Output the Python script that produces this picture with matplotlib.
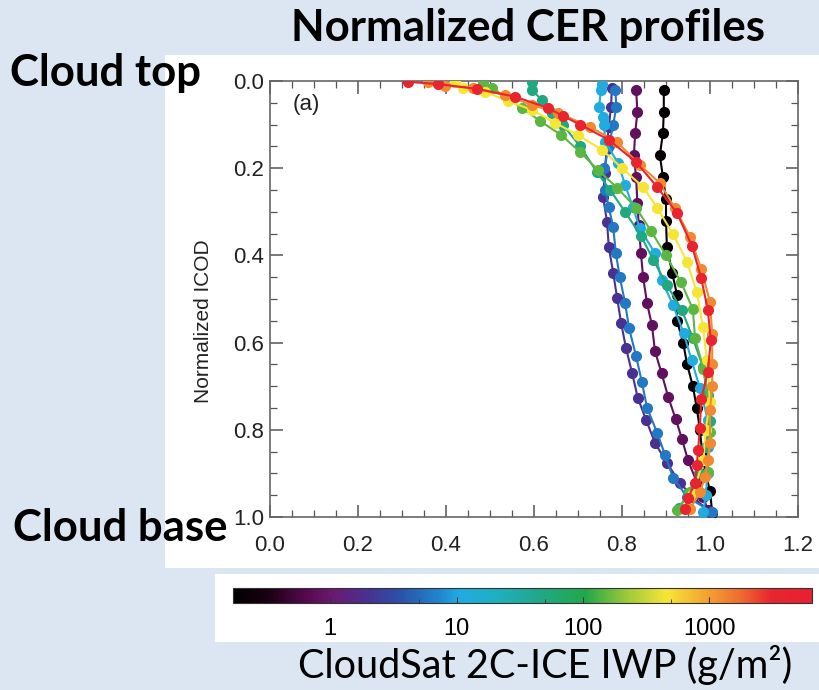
import matplotlib
matplotlib.use("Agg")
import matplotlib.pyplot as plt
from matplotlib.colors import LinearSegmentedColormap, LogNorm
from matplotlib.patches import Rectangle
from matplotlib.ticker import MultipleLocator, FixedLocator, NullFormatter
import matplotlib.cm as cm

# ---------------- data ----------------
iwp_values = [0.2, 0.8, 2, 6, 11, 50, 150, 450, 1300, 3800]

black_cer = [0.895,0.895,0.893,0.886,0.893,0.900,0.900,0.902,0.914,0.925,0.925,0.939,0.948,0.961,0.970,0.977,0.982,0.990,1.000,1.005]
black_icod = [0.02,0.07,0.12,0.17,0.22,0.27,0.32,0.38,0.44,0.49,0.55,0.60,0.65,0.70,0.75,0.80,0.85,0.90,0.94,0.99]

purple_cer = [0.832,0.835,0.830,0.827,0.832,0.835,0.838,0.843,0.848,0.857,0.868,0.875,0.890,0.905,0.922,0.936,0.950,0.970,0.985,0.995]
purple_icod = [0.02,0.07,0.12,0.17,0.22,0.28,0.33,0.395,0.45,0.51,0.56,0.62,0.67,0.725,0.775,0.82,0.87,0.92,0.955,0.985]

indigo_cer = [0.777,0.775,0.770,0.765,0.761,0.757,0.766,0.770,0.780,0.789,0.798,0.809,0.823,0.836,0.855,0.875,0.902,0.932,0.961,1.000]
indigo_icod = [0.016,0.06,0.105,0.155,0.21,0.266,0.323,0.381,0.44,0.498,0.555,0.612,0.67,0.727,0.778,0.83,0.876,0.922,0.954,0.989]

blue_cer = [0.785,0.787,0.780,0.770,0.760,0.762,0.770,0.780,0.786,0.795,0.807,0.816,0.832,0.845,0.857,0.880,0.898,0.916,0.948,1.005]
blue_icod = [0.02,0.06,0.10,0.15,0.20,0.25,0.29,0.335,0.395,0.45,0.509,0.567,0.631,0.69,0.75,0.807,0.858,0.91,0.954,0.989]

cyan_cer = [0.755,0.752,0.748,0.757,0.759,0.762,0.791,0.807,0.825,0.840,0.875,0.890,0.916,0.940,0.958,0.977,0.995,0.995,0.995,0.990,0.985]
cyan_icod = [0.007,0.02,0.06,0.083,0.10,0.14,0.188,0.238,0.29,0.337,0.395,0.456,0.514,0.578,0.640,0.704,0.778,0.84,0.90,0.95,0.989]

teal_cer = [0.595,0.595,0.618,0.641,0.666,0.705,0.743,0.773,0.807,0.843,0.871,0.902,0.936,0.961,0.984,0.995,1.000,0.990,0.975,0.950,0.930]
teal_icod = [0.002,0.020,0.044,0.073,0.101,0.150,0.209,0.250,0.300,0.355,0.410,0.468,0.525,0.590,0.656,0.720,0.780,0.840,0.900,0.945,0.980]

green_cer = [0.484,0.505,0.540,0.573,0.614,0.662,0.705,0.745,0.789,0.832,0.866,0.900,0.934,0.961,0.966,0.985,0.995,1.000,0.995,0.955,0.925]
green_icod = [0.002,0.016,0.040,0.062,0.092,0.124,0.163,0.204,0.245,0.291,0.344,0.400,0.461,0.523,0.590,0.660,0.730,0.806,0.897,0.943,0.984]

yellow_cer = [0.420,0.439,0.489,0.541,0.595,0.648,0.700,0.755,0.800,0.848,0.880,0.916,0.948,0.970,0.984,0.993,1.000,0.990,0.985,0.960,0.950]
yellow_icod = [0.002,0.016,0.025,0.046,0.066,0.096,0.124,0.158,0.200,0.243,0.291,0.351,0.415,0.484,0.564,0.640,0.736,0.800,0.870,0.950,0.980]

orange_cer = [0.360,0.398,0.461,0.534,0.595,0.655,0.727,0.789,0.841,0.886,0.920,0.955,0.980,1.000,1.005,1.005,1.005,1.000,1.000,0.995,0.989,0.977,0.955]
orange_icod = [0.002,0.011,0.016,0.032,0.055,0.073,0.105,0.140,0.193,0.234,0.291,0.358,0.431,0.507,0.580,0.650,0.700,0.755,0.830,0.870,0.908,0.943,0.982]

red_cer = [0.314,0.382,0.470,0.557,0.632,0.665,0.705,0.770,0.832,0.880,0.925,0.959,0.980,0.995,1.002,0.995,0.980,0.977,0.973,0.970,0.966,0.950,0.943]
red_icod = [0.002,0.007,0.018,0.036,0.062,0.080,0.100,0.135,0.186,0.243,0.303,0.378,0.452,0.525,0.594,0.667,0.730,0.796,0.846,0.880,0.922,0.957,0.982]

profiles_cer = [black_cer, purple_cer, indigo_cer, blue_cer, cyan_cer,
                teal_cer, green_cer, yellow_cer, orange_cer, red_cer]
profiles_icod = [black_icod, purple_icod, indigo_icod, blue_icod, cyan_icod,
                 teal_icod, green_icod, yellow_icod, orange_icod, red_icod]

x_ticks = [0.0, 0.2, 0.4, 0.6, 0.8, 1.0, 1.2]
y_ticks = [0.0, 0.2, 0.4, 0.6, 0.8, 1.0]
cb_ticks = [1, 10, 100, 1000]
cb_minor = [5, 50, 500]

# ---------------- style ----------------
bg = "#dce6f2"
cmap = LinearSegmentedColormap.from_list("iwp", [
    (0.00, "#000000"), (0.06, "#1a0012"), (0.13, "#5a0a52"), (0.17, "#6a1a70"),
    (0.23, "#4a3090"), (0.29, "#2a52a8"), (0.36, "#1f8ad0"), (0.39, "#22aae2"),
    (0.45, "#1eb0c4"), (0.52, "#20a890"), (0.61, "#22a84a"), (0.68, "#9cc83a"),
    (0.75, "#f6e636"), (0.82, "#f3a232"), (0.88, "#ee6a30"), (0.93, "#e8262e"),
    (1.00, "#e82030")])
norm = LogNorm(vmin=0.17, vmax=6500)

fig = plt.figure(figsize=(8.2, 6.9), dpi=100, facecolor=bg)
W, H = 820.0, 690.0

def fx(px):
    return px / W

def fy(py):
    return 1 - py / H

# white panels (behind everything)
fig.patches.append(Rectangle((fx(165), fy(568)), fx(820) - fx(165), fy(55) - fy(568),
                             transform=fig.transFigure, facecolor="white", edgecolor="none", zorder=-5))
fig.patches.append(Rectangle((fx(215), fy(642)), fx(820) - fx(215), fy(574) - fy(642),
                             transform=fig.transFigure, facecolor="white", edgecolor="none", zorder=-5))

ax = fig.add_axes([fx(270), fy(517), fx(798) - fx(270), fy(81) - fy(517)])
ax.set_facecolor("white")

for iwp, xs, ys in zip(iwp_values, profiles_cer, profiles_icod):
    col = cmap(norm(iwp))
    ax.plot(xs, ys, "-o", color=col, lw=1.5, ms=7, mec=col, mfc=col, zorder=3)

ax.set_xlim(0, 1.2)
ax.set_ylim(1.0, 0.0)
ax.set_xticks(x_ticks)
ax.set_yticks(y_ticks)
ax.set_xticklabels([f"{v:.1f}" for v in x_ticks])
ax.set_yticklabels([f"{v:.1f}" for v in y_ticks])
ax.xaxis.set_minor_locator(MultipleLocator(0.05))
ax.yaxis.set_minor_locator(MultipleLocator(0.05))
ax.tick_params(which="both", direction="in", top=True, right=True, color="#555555",
               labelsize=16, labelcolor="#222222")
ax.tick_params(axis="x", which="major", pad=13)
ax.tick_params(axis="y", which="major", pad=4)
ax.tick_params(which="major", length=9, width=1.1)
ax.tick_params(which="minor", length=5, width=0.9)
for s in ax.spines.values():
    s.set_color("#666666")
    s.set_linewidth(1.2)
for lab in ax.get_xticklabels() + ax.get_yticklabels():
    lab.set_family("Liberation Sans")
ax.set_ylabel("Normalized ICOD", fontsize=15, family="Liberation Sans", color="#222222")
ax.yaxis.set_label_coords(-0.108, 0.45)
ax.text(0.043, 0.945, "(a)", transform=ax.transAxes, fontsize=16, family="Liberation Sans",
        color="#222222", va="center", ha="left")

# titles / side labels
fig.text(fx(528), fy(28), "Normalized CER profiles", fontsize=31.5, fontweight="bold",
         family="Lato", ha="center", va="center", color="black")
fig.text(fx(10), fy(73), "Cloud top", fontsize=31.5, fontweight="bold",
         family="Lato", ha="left", va="center", color="black")
fig.text(fx(13), fy(528), "Cloud base", fontsize=31.5, fontweight="bold",
         family="Lato", ha="left", va="center", color="black")

# colorbar
cax = fig.add_axes([fx(233), fy(603), fx(812) - fx(233), fy(588) - fy(603)])
sm = cm.ScalarMappable(norm=norm, cmap=cmap)
cb = fig.colorbar(sm, cax=cax, orientation="horizontal")
cb.set_ticks(cb_ticks)
cb.set_ticklabels([str(t) for t in cb_ticks])
cax.xaxis.set_minor_locator(FixedLocator(cb_minor))
cax.xaxis.set_minor_formatter(NullFormatter())
cax.tick_params(which="both", direction="in", color="#333333", labelsize=17, pad=11)
cax.tick_params(which="major", length=4)
cax.tick_params(which="minor", length=3)
for lab in cax.get_xticklabels():
    lab.set_family("Liberation Sans")
cb.outline.set_linewidth(0.8)
cb.outline.set_edgecolor("#333333")

fig.text(fx(545), fy(665), "CloudSat 2C-ICE IWP (g/m\u00b2)", fontsize=28.5, family="Lato",
         ha="center", va="center", color="black")

fig.savefig("out.png", dpi=100, facecolor=bg)
